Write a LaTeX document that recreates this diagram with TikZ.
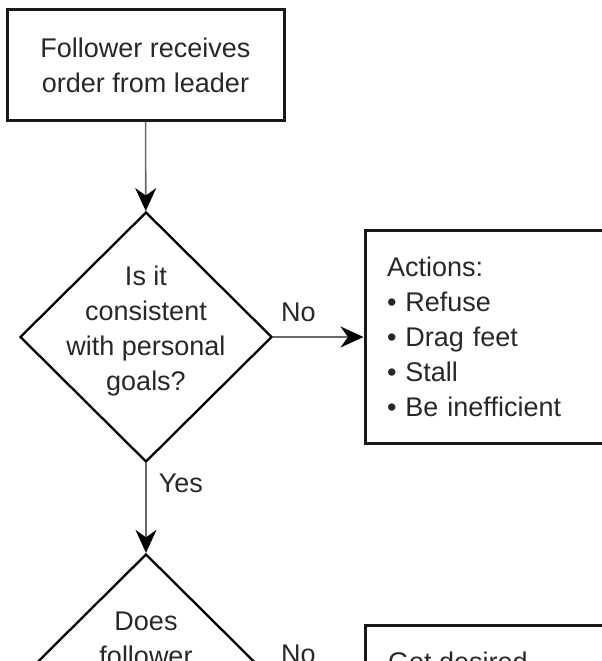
\documentclass[tikz,border=0pt]{standalone}
\usepackage{fontspec}
\setmainfont{Liberation Sans}
\usetikzlibrary{shapes,arrows.meta}
\definecolor{inkgray}{RGB}{40,40,40}
\definecolor{linegray}{RGB}{105,105,105}

\begin{document}
\begin{tikzpicture}[
    x=1pt, y=-1pt,
    every node/.style={font=\fontsize{27}{35}\selectfont, text=inkgray},
    box/.style={rectangle, draw=black!90, line width=3pt, inner sep=0pt},
    decision/.style={diamond, draw=black, line width=2.3pt, minimum width=252pt, minimum height=250pt, inner sep=0pt},
    qtext/.style={align=center, inner sep=0pt},
    listbox/.style={box, minimum width=238pt, minimum height=213pt, text width=194pt, align=left, inner xsep=22pt},
    flow/.style={draw=linegray, line width=1.6pt, -{Stealth[length=23pt, width=21pt, color=black]}},
    tag/.style={inner sep=0pt}
]
    \useasboundingbox (0,0) rectangle (602,661);
    \clip (0,0) rectangle (602,661);

    % Order from leader
    \node[box, minimum width=277pt, minimum height=110pt, align=center] (order) at (145.5,65) {Follower receives\\order from leader};

    % First decision
    \node[decision] (q1) at (146,337) {};
    \node[qtext] (q1text) at (146,331) {Is it\\consistent\\with personal\\goals?};

    % Actions when not consistent
    \node[listbox] (acts) at (484,337) {Actions:\\• Refuse\\• Drag feet\\• Stall\\• Be inefficient};

    % Second decision (cut off by the frame)
    \node[decision] (q2) at (146,679) {};
    \node[qtext, anchor=north] (q2text) at (146,611.5) {Does\\follower};

    % Outcome box (cut off by the frame)
    \node[box, minimum width=238pt, minimum height=213pt] (got) at (484,732) {};
    \node[tag, anchor=north west] (gottext) at (388,651.5) {Got desired};

    % Edges
    \draw[flow] (order) -- (q1);
    \draw[flow] (q1.east) -- node[tag, pos=0.28, above=14pt] {No} (acts.west);
    \draw[flow] (q1.south) -- node[tag, pos=0.22, right=12pt] {Yes} (q2.north);
    \draw[flow] (q2.east) -- node[tag, pos=0.28, above=14pt] {No} (q2.east -| got.west);
\end{tikzpicture}
\end{document}
